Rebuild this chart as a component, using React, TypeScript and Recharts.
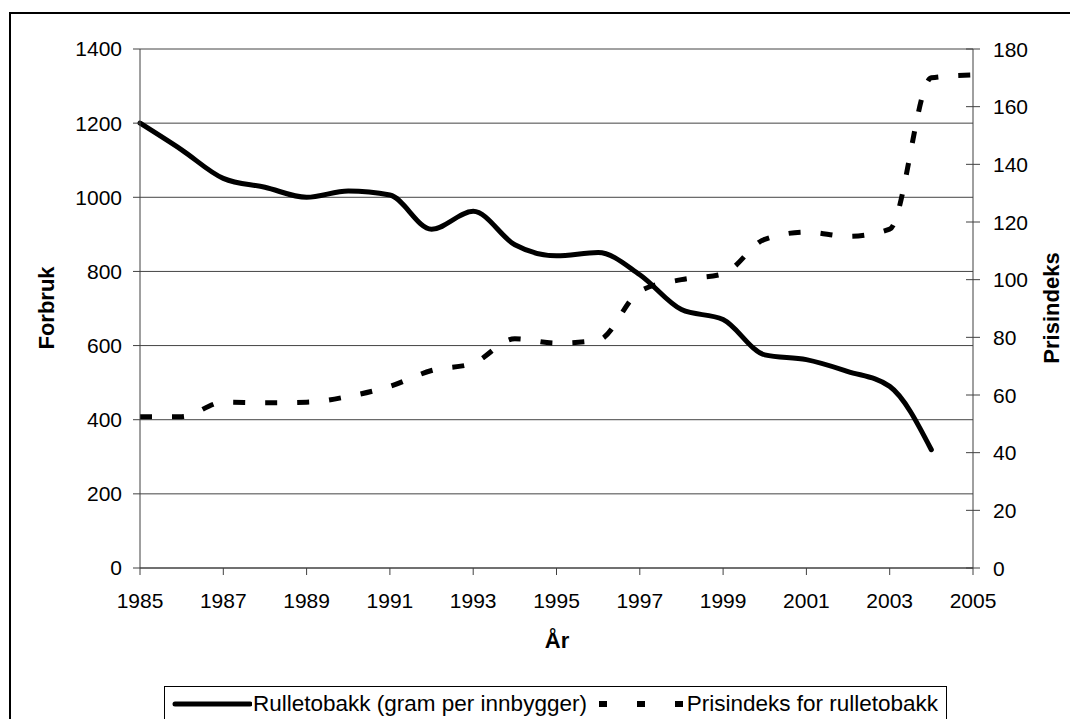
import React from 'react';
import { LineChart, Line, XAxis, YAxis, CartesianGrid } from 'recharts';

const years = [
  1985, 1986, 1987, 1988, 1989, 1990, 1991, 1992, 1993, 1994, 1995,
  1996, 1997, 1998, 1999, 2000, 2001, 2002, 2003, 2004, 2005,
];
// gram per innbygger (left axis)
const forbruk = [
  1200, 1128, 1051, 1027, 1000, 1017, 1006, 914, 962, 872, 842,
  851, 791, 697, 670, 575, 562, 530, 490, 319, null,
];
// prisindeks (right axis)
const prisindeks = [
  52.5, 52.5, 57.5, 57.3, 57.5, 59.5, 63, 68.5, 71, 79.5, 78,
  79, 96, 100, 102, 114, 116.5, 115, 117.5, 170, 171,
];
const xTicks = [1985, 1987, 1989, 1991, 1993, 1995, 1997, 1999, 2001, 2003, 2005];
const leftTicks = [0, 200, 400, 600, 800, 1000, 1200, 1400];
const rightTicks = [0, 20, 40, 60, 80, 100, 120, 140, 160, 180];

const chartData = years.map((yr, i) => ({
  year: yr,
  forbruk: forbruk[i],
  pris: prisindeks[i],
}));

const FONT = '"Liberation Sans", Arial, sans-serif';
const TICK_SIZE = 7;
const RIGHT_MARGIN = 13;

// right axis in the original has ticks that cross the axis line
const RightTick = (props: any) => {
  const { x, y, payload } = props;
  const axisX = x - TICK_SIZE - RIGHT_MARGIN;
  return (
    <g>
      <line x1={axisX - TICK_SIZE} x2={axisX} y1={y} y2={y} stroke="#404040" strokeWidth={1} />
      <text x={x} y={y} dy="0.36em" textAnchor="start" fill="#000" fontSize={21} fontFamily={FONT}>
        {payload.value}
      </text>
    </g>
  );
};

const titleStyle: React.CSSProperties = {
  position: 'absolute',
  fontFamily: FONT,
  fontWeight: 'bold',
  fontSize: 22,
  color: '#000',
  whiteSpace: 'nowrap',
};

const legendText: React.CSSProperties = {
  position: 'absolute',
  top: '50%',
  transform: 'translateY(-50%)',
  lineHeight: 1,
};

export default function App() {
  return (
    <div style={{ position: 'relative', width: 1078, height: 727, margin: -8, overflow: 'hidden', background: '#fff' }}>
      {/* chart frame, runs off the right and bottom edges like the source */}
      <div
        style={{
          position: 'absolute',
          left: 9,
          top: 12,
          width: 1100,
          height: 760,
          border: '2px solid #000',
          boxSizing: 'border-box',
        }}
      />
      <div style={{ position: 'absolute', left: 0, top: 0 }}>
        <LineChart
          width={1078}
          height={727}
          data={chartData}
          margin={{ top: 49, right: 5, left: 40, bottom: 99 }}
        >
          <CartesianGrid yAxisId="left" vertical={false} stroke="#444" strokeWidth={1} />
          <XAxis
            dataKey="year"
            type="number"
            domain={[1985, 2005]}
            ticks={xTicks}
            height={60}
            stroke="#404040"
            tickSize={TICK_SIZE}
            tickMargin={18}
            tick={{ fill: '#000', fontSize: 21, fontFamily: FONT }}
            interval={0}
          />
          <YAxis
            yAxisId="left"
            orientation="left"
            domain={[0, 1400]}
            ticks={leftTicks}
            width={100}
            stroke="#404040"
            tickSize={TICK_SIZE}
            tickMargin={11}
            tick={{ fill: '#000', fontSize: 21, fontFamily: FONT }}
            interval={0}
          />
          <YAxis
            yAxisId="right"
            orientation="right"
            domain={[0, 180]}
            ticks={rightTicks}
            width={100}
            stroke="#404040"
            tickSize={TICK_SIZE}
            tickMargin={RIGHT_MARGIN}
            tick={<RightTick />}
            interval={0}
          />
          <Line
            yAxisId="left"
            type="monotone"
            dataKey="forbruk"
            stroke="#000"
            strokeWidth={5}
            dot={false}
            isAnimationActive={false}
            strokeLinecap="round"
          />
          <Line
            yAxisId="right"
            type="monotone"
            dataKey="pris"
            stroke="#000"
            strokeWidth={5}
            strokeDasharray="12 20"
            dot={false}
            isAnimationActive={false}
          />
        </LineChart>
      </div>

      {/* axis titles */}
      <div style={{ ...titleStyle, left: 47, top: 308, transform: 'translate(-50%, -50%) rotate(-90deg)' }}>
        Forbruk
      </div>
      <div style={{ ...titleStyle, left: 1052, top: 308, transform: 'translate(-50%, -50%) rotate(-90deg)' }}>
        Prisindeks
      </div>
      <div style={{ ...titleStyle, left: 557, top: 641, transform: 'translate(-50%, -50%)' }}>År</div>

      {/* legend */}
      <div
        style={{
          position: 'absolute',
          left: 164,
          top: 686,
          width: 783,
          height: 36,
          border: '1px solid #000',
          boxSizing: 'border-box',
          fontFamily: FONT,
          fontSize: 22.5,
          color: '#000',
          whiteSpace: 'nowrap',
        }}
      >
        <svg width={80} height={10} style={{ position: 'absolute', left: 7, top: 12 }}>
          <line x1={3} x2={78} y1={5} y2={5} stroke="#000" strokeWidth={5} strokeLinecap="round" />
        </svg>
        <span style={{ ...legendText, left: 88 }}>Rulletobakk (gram per innbygger)</span>
        <svg width={90} height={10} style={{ position: 'absolute', left: 432, top: 12 }}>
          <line x1={2} x2={90} y1={5} y2={5} stroke="#000" strokeWidth={6} strokeDasharray="8 30" />
        </svg>
        <span style={{ ...legendText, right: 8 }}>Prisindeks for rulletobakk</span>
      </div>
    </div>
  );
}
